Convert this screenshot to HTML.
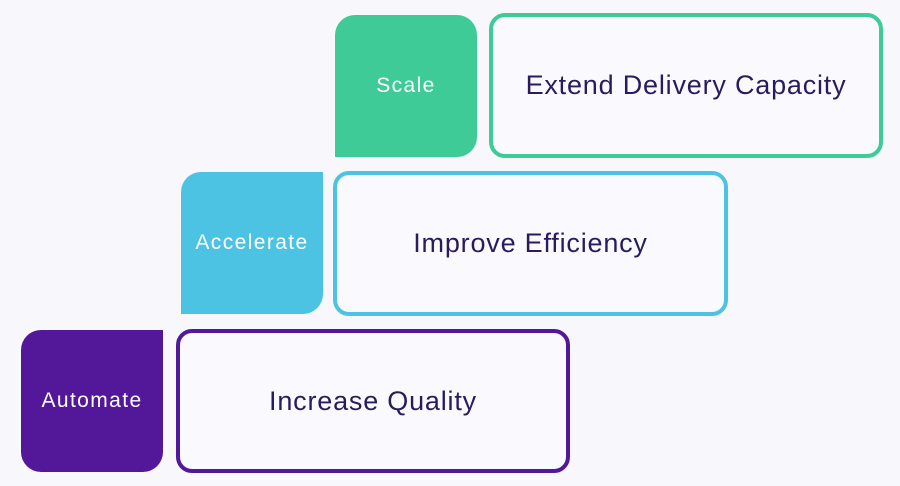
<!DOCTYPE html>
<html><head><style>
body{margin:0;width:900px;height:486px;background:#f7f7fc;position:relative;overflow:hidden;font-family:"Liberation Sans",sans-serif}
.s{position:absolute;width:142px;height:142px;color:#fff;font-size:21px;letter-spacing:1.4px;display:flex;align-items:center;justify-content:center}
.o{position:absolute;box-sizing:border-box;border:4px solid;border-radius:16px;display:flex;align-items:center;justify-content:center;color:#2a1b5e;font-size:27px;letter-spacing:0.8px;background:#f9f9fe}
</style></head><body>
<div class="s" style="left:335px;top:15px;background:#3ecb98;border-radius:20px 20px 20px 0">Scale</div>
<div class="o" style="left:489px;top:13px;width:394px;height:145px;border-color:#3ecb98">Extend Delivery Capacity</div>
<div class="s" style="left:181px;top:172px;background:#4dc3e3;border-radius:20px 0 20px 0">Accelerate</div>
<div class="o" style="left:333px;top:171px;width:395px;height:145px;border-color:#4dc3e3">Improve Efficiency</div>
<div class="s" style="left:21px;top:330px;background:#53189a;border-radius:20px 0 20px 20px">Automate</div>
<div class="o" style="left:176px;top:329px;width:394px;height:144px;border-color:#53189a">Increase Quality</div>
</body></html>
